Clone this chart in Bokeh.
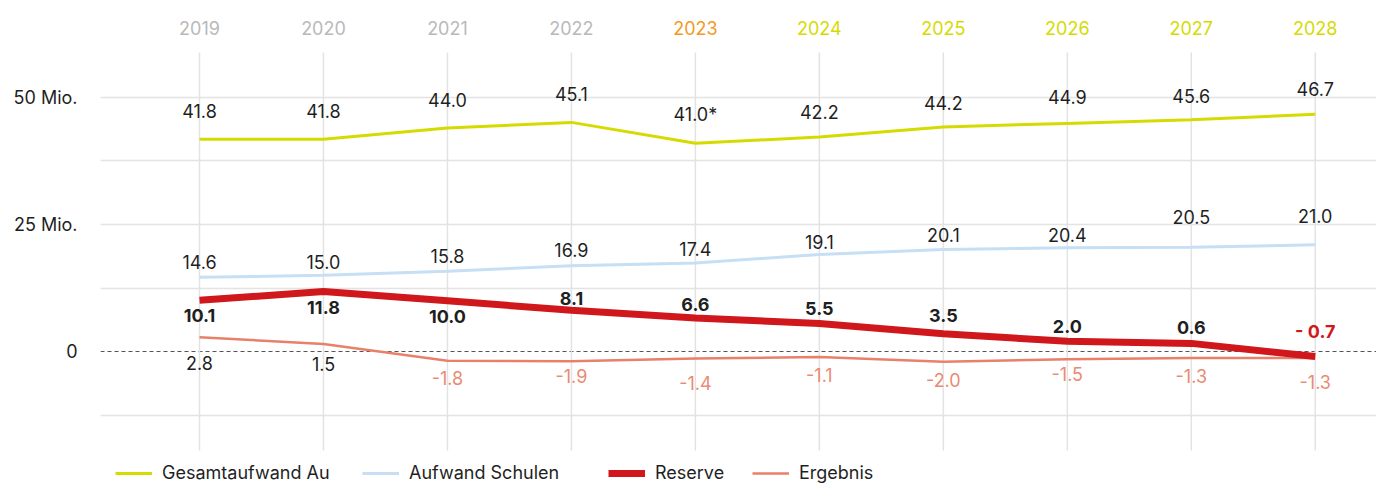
from bokeh.plotting import figure
from bokeh.models import (ColumnDataSource, Span, Legend, LegendItem,
                          FixedTicker, Range1d)
from bokeh.core.properties import value
from bokeh.embed import file_html
from bokeh.resources import INLINE

# ---------------- data ----------------
years = [2019, 2020, 2021, 2022, 2023, 2024, 2025, 2026, 2027, 2028]
year_labels = ["2019", "2020", "2021", "2022", "2023", "2024", "2025", "2026", "2027", "2028"]

gesamt = [41.8, 41.8, 44.0, 45.1, 41.0, 42.2, 44.2, 44.9, 45.6, 46.7]
gesamt_text = ["41.8", "41.8", "44.0", "45.1", "41.0*", "42.2", "44.2", "44.9", "45.6", "46.7"]

schulen = [14.6, 15.0, 15.8, 16.9, 17.4, 19.1, 20.1, 20.4, 20.5, 21.0]
schulen_text = ["14.6", "15.0", "15.8", "16.9", "17.4", "19.1", "20.1", "20.4", "20.5", "21.0"]

reserve = [10.1, 11.8, 10.0, 8.1, 6.6, 5.5, 3.5, 2.0, 1.6, -1.0]
reserve_text = ["10.1", "11.8", "10.0", "8.1", "6.6", "5.5", "3.5", "2.0", "0.6", "- 0.7"]

ergebnis = [2.8, 1.5, -1.8, -1.9, -1.4, -1.1, -2.0, -1.5, -1.3, -1.3]
ergebnis_text = ["2.8", "1.5", "-1.8", "-1.9", "-1.4", "-1.1", "-2.0", "-1.5", "-1.3", "-1.3"]

y_ticks = [0, 25, 50]
y_tick_labels = ["0", "25 Mio.", "50 Mio."]
grid_ticks = [-12.5, 12.5, 25, 37.5, 50]

series_names = ["Gesamtaufwand Au", "Aufwand Schulen", "Reserve", "Ergebnis"]

# ---------------- layout / styles ----------------
FONT = "Inter"
FS = "18px"
C_GESAMT = "#d5db00"
C_SCHULEN = "#c6dff5"
C_RESERVE = "#cf171c"
C_ERGEBNIS = "#e8806a"
C_TEXT = "#1f1f1f"
C_GRID = "#e3e3e3"
year_colors = ["#b9b9b9"] * 4 + ["#f39a1e"] + [C_GESAMT] * 5

GRID_TOP = 58.86     # upper end of the plotting band
GRID_BOTTOM = -19.5  # lower end of the plotting band

gesamt_dy = [-28, -28, -28, -28, -29, -25, -24, -26, -24, -25]
schulen_dy = [-15, -13, -15, -16, -14, -12, -14, -13, -30, -29]
reserve_dy = [15, 16, 16, -12, -13, -15, -18, -15, -16, -25]
reserve_colors = [C_TEXT] * 9 + [C_RESERVE]
ergebnis_dy = [26, 20, 17, 15, 24, 18, 18, 15, 18, 24]
ergebnis_colors = [C_TEXT if v > 0 else "#ea8a72" for v in ergebnis]

p = figure(width=1376, height=483, output_backend="svg", toolbar_location=None,
           x_range=Range1d(2018.2014, 2028.494), y_range=Range1d(-25.98, 69.09),
           x_axis_location=None, min_border_left=100, min_border_right=0,
           min_border_top=0, min_border_bottom=0)
p.outline_line_color = None
p.background_fill_color = "white"

p.xgrid.visible = False
p.ygrid.ticker = FixedTicker(ticks=grid_ticks)
p.ygrid.grid_line_color = C_GRID
p.ygrid.grid_line_width = 1.5

ax = p.yaxis[0]
ax.ticker = FixedTicker(ticks=y_ticks)
ax.major_label_overrides = {t: l for t, l in zip(y_ticks, y_tick_labels)}
ax.axis_line_color = None
ax.major_tick_line_color = None
ax.minor_tick_line_color = None
ax.major_tick_out = 0
ax.major_tick_in = 0
ax.major_label_standoff = 23
ax.major_label_text_font = FONT
ax.major_label_text_font_size = FS
ax.major_label_text_color = C_TEXT

# vertical grid lines limited to the plotting band
vsrc = ColumnDataSource(dict(x=years, y0=[GRID_BOTTOM] * len(years),
                             y1=[GRID_TOP] * len(years),
                             t=year_labels, c=year_colors))
p.segment(x0="x", y0="y0", x1="x", y1="y1", source=vsrc,
          line_color=C_GRID, line_width=1.5)
p.text(x="x", y="y1", text="t", source=vsrc, y_offset=-24,
       text_color="c", text_align="center", text_baseline="middle",
       text_font=value(FONT), text_font_size=FS)

zero = Span(location=0, dimension="width", line_color="#555555",
            line_dash="4 3", line_width=1.2, level="underlay")
p.add_layout(zero)

src = ColumnDataSource(dict(
    x=years, gesamt=gesamt, gesamt_text=gesamt_text, gesamt_dy=gesamt_dy,
    schulen=schulen, schulen_text=schulen_text, schulen_dy=schulen_dy,
    reserve=reserve, reserve_text=reserve_text, reserve_dy=reserve_dy,
    reserve_colors=reserve_colors,
    ergebnis=ergebnis, ergebnis_text=ergebnis_text, ergebnis_dy=ergebnis_dy,
    ergebnis_colors=ergebnis_colors,
))

r_g = p.line("x", "gesamt", source=src, line_color=C_GESAMT, line_width=3)
r_s = p.line("x", "schulen", source=src, line_color=C_SCHULEN, line_width=3)
r_e = p.line("x", "ergebnis", source=src, line_color=C_ERGEBNIS, line_width=2.5)
r_r = p.line("x", "reserve", source=src, line_color=C_RESERVE, line_width=7)

common = dict(source=src, text_align="center", text_baseline="middle",
              text_font=value(FONT), text_font_size=FS)
p.text(x="x", y="gesamt", text="gesamt_text", y_offset="gesamt_dy",
       text_color=C_TEXT, **common)
p.text(x="x", y="schulen", text="schulen_text", y_offset="schulen_dy",
       text_color=C_TEXT, **common)
p.text(x="x", y="reserve", text="reserve_text", y_offset="reserve_dy",
       text_color="reserve_colors", text_font_style="bold", **common)
p.text(x="x", y="ergebnis", text="ergebnis_text", y_offset="ergebnis_dy",
       text_color="ergebnis_colors", **common)

# legend (separate blocks to mimic spacing), inside the frame at the bottom
legend_x = [15, 262, 508, 652]
for name, rend, lx in zip(series_names, [r_g, r_s, r_r, r_e], legend_x):
    lg = Legend(items=[LegendItem(label=name, renderers=[rend])],
                location=(lx, 0), orientation="horizontal",
                glyph_width=37, glyph_height=20, label_standoff=10,
                padding=0, margin=0, spacing=0,
                label_text_font=FONT, label_text_font_size=FS,
                label_text_color=C_TEXT, border_line_color=None,
                background_fill_alpha=0, label_height=20)
    p.add_layout(lg)

open("out.html", "w").write(file_html(p, INLINE))
